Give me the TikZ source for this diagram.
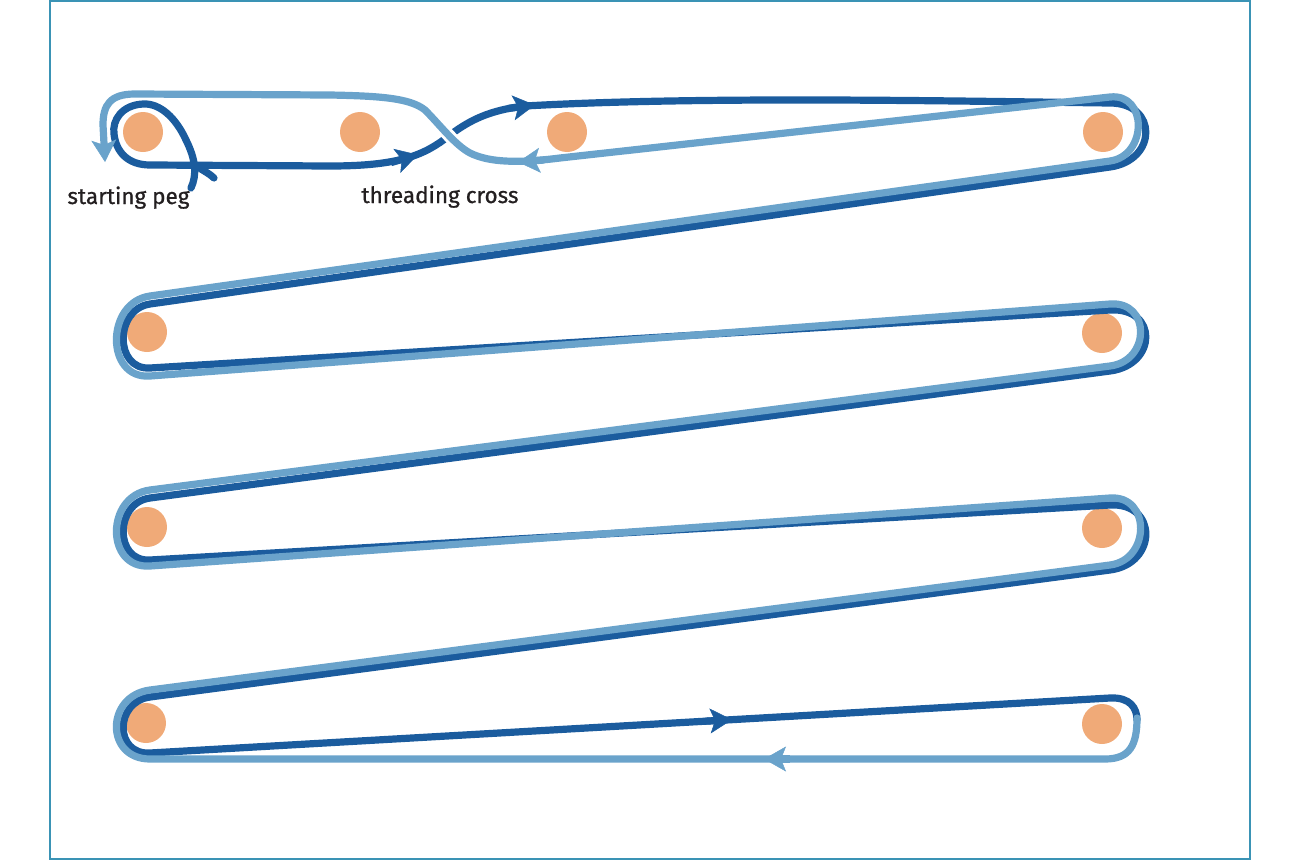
\documentclass[tikz,border=0pt]{standalone}
\usepackage{fontspec}
\setmainfont{Fira Sans}
\newfontfamily\lblfont[FakeBold=0.8]{Fira Sans}
\usetikzlibrary{arrows.meta}
\definecolor{dk}{HTML}{1B5C9E}
\definecolor{lt}{HTML}{6AA3CB}
\definecolor{pegc}{HTML}{F0AA78}
\definecolor{framec}{HTML}{3A93B5}
\definecolor{txt}{HTML}{231F20}
\begin{document}
\begin{tikzpicture}[x=1pt,y=-1pt,
  dkline/.style={draw=dk,line width=7.2pt,line cap=round,line join=round},
  ltline/.style={draw=lt,line width=7.2pt,line cap=round,line join=round},
  tip/.style={-{Stealth[length=22pt,width=25pt,inset=5pt,line width=0.5pt]}},
  pegdot/.style={circle,fill=pegc,minimum size=40pt,inner sep=0pt},
  lbl/.style={font=\lblfont\fontsize{22.5}{26}\selectfont,text=txt,inner sep=0pt}]
\useasboundingbox (0,0) rectangle (1300,862);
\draw[framec, line width=1.6pt] (50,1) rectangle (1250,859);
% pegs
\node[pegdot] (p1) at (143,132) {};
\node[pegdot] (p2) at (360,132) {};
\node[pegdot] (p3) at (567,132) {};
\node[pegdot] (p4) at (1103,132) {};
\node[pegdot] (p5) at (147,332) {};
\node[pegdot] (p6) at (1102,333) {};
\node[pegdot] (p7) at (147,527) {};
\node[pegdot] (p8) at (1102,528) {};
\node[pegdot] (p9) at (146,723) {};
\node[pegdot] (p10) at (1102,724) {};
% dark strand (outgoing)
\draw[dkline] (191,188) .. controls (197,175) and (196,160) .. (186,140)
  .. controls (176,118) and (160,103) .. (143,104)
  .. controls (122,105) and (112,120) .. (114,134)
  .. controls (116,152) and (128,165) .. (150,165) -- (330,166)
  .. controls (400,166) and (425,155) .. (450,135)
  .. controls (470,120) and (490,110) .. (525,106)
  .. controls (700,96) and (950,101) .. (1110,103)
  .. controls (1158,103) and (1157.5,160.2) .. (1110,167)
  -- (150,304) .. controls (114.4,309.1) and (114.1,370.2) .. (150,368)
  -- (1110,310) .. controls (1157.9,307.1) and (1157.6,364.7) .. (1110,371)
  -- (150,498) .. controls (114.3,502.7) and (114.1,562.1) .. (150,560)
  -- (1110,505) .. controls (1157.9,502.3) and (1157.6,563.7) .. (1110,570)
  -- (150,697) .. controls (114.3,701.7) and (114.1,755.1) .. (150,753)
  -- (1110,698) .. controls (1130,697) and (1137,708) .. (1137,720);
\draw[dkline] (197,166) .. controls (203,171) and (209,173) .. (214,178);
% gap at the threading cross
\draw[white, line width=13pt] (455,142) -- (440,126);
% light strand (return)
\draw[ltline, tip] (1137,718) .. controls (1137,745) and (1130,759) .. (1105,759) -- (150,759)
  .. controls (105,759) and (105.4,695.8) .. (150,690)
  -- (1110,565) .. controls (1150.7,559.7) and (1150.9,495.1) .. (1110,498)
  -- (150,566) .. controls (105.1,569.2) and (105.4,495.8) .. (150,490)
  -- (1110,366) .. controls (1150.7,360.8) and (1150.9,300.9) .. (1110,304)
  -- (150,376) .. controls (105.1,379.4) and (105.4,302.3) .. (150,296)
  -- (1110,161) .. controls (1147.6,155.7) and (1147.8,92.9) .. (1110,97)
  -- (560,158) .. controls (520,163) and (490,163) .. (470,153)
  .. controls (455,145) and (440,125) .. (425,110)
  .. controls (410,98) and (380,96) .. (330,95) -- (135,94)
  .. controls (110,94) and (103,105) .. (103,125) -- (105,162);
% direction arrows
\draw[dkline, line cap=butt, tip] (391,162.6) -- (418,154.7);
\draw[dkline, line cap=butt, tip] (508,108.5) -- (535,105);
\draw[dkline, line cap=butt, tip] (705,721.2) -- (732,719.7);
\draw[ltline, line cap=butt, tip] (790,759) -- (764,759);
\draw[ltline, line cap=butt, tip] (544,160) -- (518,162.1);
% labels
\node[lbl, anchor=base] (sp) at (128.5,204) {starting peg};
\node[lbl, anchor=base] (tc) at (440,203) {threading cross};
\end{tikzpicture}
\end{document}
